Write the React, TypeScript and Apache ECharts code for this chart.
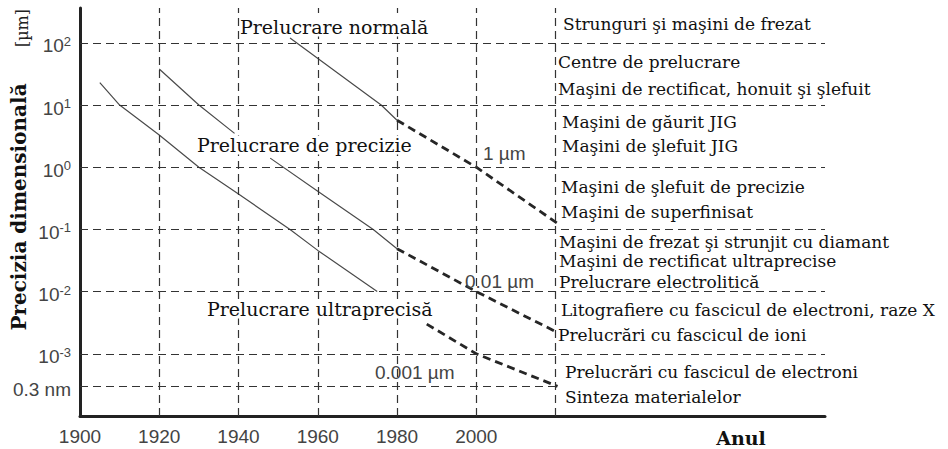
import React, { useEffect, useRef } from 'react';
import * as echarts from 'echarts';

// ---- data ----
const xTickYears = [1900, 1920, 1940, 1960, 1980, 2000];
const gridYears = [1920, 1940, 1960, 1980, 2000, 2020];
const gridValues = [100, 10, 1, 0.1, 0.01, 0.001];
const nanoValue = 0.0003; // 0.3 nm
const yTickExponents = [2, 1, 0, -1, -2, -3];

const lineAYears = [1905, 1910, 1920, 1930, 1940, 1953, 1960, 1975];
const lineAValues = [23, 10, 3.3, 1, 0.37, 0.1, 0.046, 0.01];
const lineBYears = [1920, 1930, 1939];
const lineBValues = [38, 10, 3.5];
const lineCYears = [1948, 1960, 1974, 1980];
const lineCValues = [1.4, 0.41, 0.1, 0.049];
const lineCDashYears = [1980, 2000, 2020.5];
const lineCDashValues = [0.049, 0.01, 0.0022];
const lineDYears = [1953, 1976, 1980];
const lineDValues = [120, 10, 5.7];
const lineDDashYears = [1980, 2000, 2020.5];
const lineDDashValues = [5.7, 1, 0.125];
const lineEYears = [1987.5, 2000, 2020.5];
const lineEValues = [0.003, 0.001, 0.0003];

const regionLabels = ['Prelucrare normală', 'Prelucrare de precizie', 'Prelucrare ultraprecisă'];
const accuracyLabels = ['1 µm', '0.01 µm', '0.001 µm'];
const machineLabels = [
  'Strunguri şi maşini de frezat',
  'Centre de prelucrare',
  'Maşini de rectificat, honuit şi şlefuit',
  'Maşini de găurit JIG',
  'Maşini de şlefuit JIG',
  'Maşini de şlefuit de precizie',
  'Maşini de superfinisat',
  'Maşini de frezat şi strunjit cu diamant',
  'Maşini de rectificat ultraprecise',
  'Prelucrare electrolitică',
  'Litografiere cu fascicul de electroni, raze X',
  'Prelucrări cu fascicul de ioni',
  'Prelucrări cu fascicul de electroni',
  'Sinteza materialelor',
];
const yTitle = 'Precizia dimensională';
const yUnit = '[µm]';
const xTitle = 'Anul';

const L = (v: number) => Math.log10(v);
const pts = (xs: number[], vs: number[]) => xs.map((x, i) => [x, L(vs[i])]);
const NANO = L(nanoValue);

export default function App() {
  const ref = useRef<HTMLDivElement>(null);
  useEffect(() => {
    if (!ref.current) return;
    const chart = echarts.init(ref.current, null, { renderer: 'svg' });
    const serif = '"DejaVu Serif", serif';
    const sans = '"Liberation Sans", Arial, sans-serif';
    const solid = { color: '#4a4a4a', width: 1.2 };
    const dashed = { color: '#262626', width: 2.8, type: [8, 5] as any };
    const base = { type: 'line', symbol: 'none', silent: true, animation: false };

    const machineY = [24, 62, 89, 122, 146, 187, 212, 242, 261, 282, 310, 335, 372, 397];
    const machineX = [563, 558, 558, 562, 562, 561, 561, 559, 559, 559, 561, 558, 565, 565];
    const regionPos = [[240, 27], [197, 145], [207, 309]];
    const accPos = [[483, 153], [465, 281], [375, 372]];

    const graphic: any[] = [];
    regionLabels.forEach((t, i) => graphic.push({
      type: 'text', x: regionPos[i][0], y: regionPos[i][1], z: 100,
      style: { text: t, font: `19px ${serif}`, fill: '#111', verticalAlign: 'middle', backgroundColor: '#fff' },
    }));
    accuracyLabels.forEach((t, i) => graphic.push({
      type: 'text', x: accPos[i][0], y: accPos[i][1], z: 100,
      style: { text: t, font: `19px ${sans}`, fill: '#444', verticalAlign: 'middle' },
    }));
    machineLabels.forEach((t, i) => graphic.push({
      type: 'text', x: machineX[i], y: machineY[i], z: 100,
      style: { text: t, font: `17px ${serif}`, fill: '#111', verticalAlign: 'middle' },
    }));
    graphic.push({
      type: 'text', x: 22, y: 28, rotation: Math.PI / 2, z: 100,
      style: { text: yUnit, font: `16px ${serif}`, fill: '#222', align: 'center', verticalAlign: 'middle' },
    });
    graphic.push({
      type: 'text', x: 19, y: 207, rotation: Math.PI / 2, z: 100,
      style: { text: yTitle, font: `bold 20px ${serif}`, fill: '#111', align: 'center', verticalAlign: 'middle' },
    });
    graphic.push({
      type: 'text', x: 741, y: 438, z: 100,
      style: { text: xTitle, font: `bold 19px ${serif}`, fill: '#111', align: 'center', verticalAlign: 'middle' },
    });

    chart.setOption({
      animation: false,
      backgroundColor: '#fff',
      grid: { left: 80, right: 123, top: 8, bottom: 33, outerBoundsMode: 'none', containLabel: false },
      xAxis: {
        type: 'value', min: 1900, max: 2088, interval: 20,
        splitLine: { show: false },
        axisTick: { show: false },
        axisLine: { show: true, onZero: false, lineStyle: { color: '#222', width: 3 } },
        axisLabel: {
          customValues: xTickYears,
          formatter: (v: number) => String(v),
          color: '#444', fontSize: 19, fontFamily: sans, margin: 11,
        },
      },
      yAxis: {
        type: 'value', min: -4, max: 2.56, interval: 1,
        splitLine: { show: false },
        axisTick: { show: false },
        axisLine: { show: true, onZero: false, lineStyle: { color: '#222', width: 3 } },
        axisLabel: {
          customValues: [...yTickExponents, NANO],
          margin: 9,
          padding: [6, 0, 0, 0],
          formatter: (v: number) => Math.abs(v - NANO) < 1e-6 ? '{b|0.3 nm}' : `{b|10}{s|${v}}`,
          rich: {
            b: { fontSize: 19, color: '#444', fontFamily: sans, lineHeight: 22 },
            s: { fontSize: 13, color: '#444', fontFamily: sans, verticalAlign: 'top', lineHeight: 14 },
          },
        },
      },
      series: [
        {
          ...base, data: pts(lineAYears, lineAValues), lineStyle: solid, z: 3,
          markLine: {
            silent: true, symbol: ['none', 'none'], label: { show: false }, animation: false,
            lineStyle: { type: [8, 5], color: '#333', width: 1.2 },
            data: [
              ...gridYears.map((y) => ({ xAxis: y })),
              ...gridValues.map((v) => ({ yAxis: L(v) })),
              [{ coord: [1900, NANO] }, { coord: [2020, NANO] }],
            ],
          },
        },
        { ...base, data: pts(lineBYears, lineBValues), lineStyle: solid, z: 3 },
        { ...base, data: pts(lineCYears, lineCValues), lineStyle: solid, z: 3 },
        { ...base, data: pts(lineDYears, lineDValues), lineStyle: solid, z: 3 },
        { ...base, data: pts(lineCDashYears, lineCDashValues), lineStyle: dashed, z: 4 },
        { ...base, data: pts(lineDDashYears, lineDDashValues), lineStyle: dashed, z: 4 },
        { ...base, data: pts(lineEYears, lineEValues), lineStyle: dashed, z: 4 },
      ],
      graphic,
    });
    return () => chart.dispose();
  }, []);
  return <div ref={ref} style={{ position: 'absolute', left: 0, top: 0, width: 948, height: 449, background: '#fff' }} />;
}
